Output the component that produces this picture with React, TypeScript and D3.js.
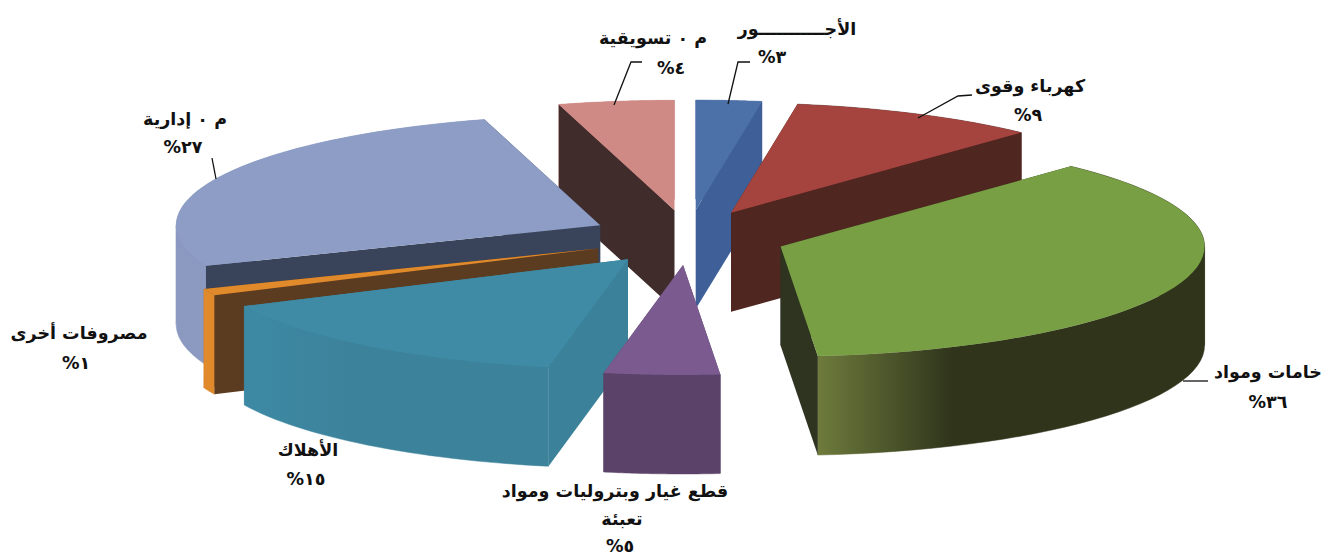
import React from "react";
import * as d3 from "d3";

const categories = ["الأجـــــــــــور", "كهرباء وقوى", "خامات ومواد", "قطع غيار وبتروليات ومواد تعبئة", "الأهلاك", "مصروفات أخرى", "م ٠ إدارية", "م ٠ تسويقية"];
const percentLabels = ["٣", "٩", "٣٦", "٥", "١٥", "١", "٢٧", "٤"];
const shares = [2.5, 9.5, 36.6, 4.4, 15, 1, 26.6, 4.4];
const topColors = ["#4b71a8", "#a5443f", "#789f43", "#7b5a90", "#3f8ba6", "#e08a2c", "#8d9dc5", "#cf8a85"];
const sideColors = ["#3f5f98", "#4f2620", "#2f3420", "#5b4268", "#3b8199", "#5c3c20", "#39435a", "#3f2c2b"];
const wallColors = [["#4b71a8", "#4b71a8"], ["#4f2620", "#4f2620"], ["#6d7b3c", "#2f341b"], ["#5b4268", "#5b4268"], ["#3d89a4", "#3d829b"], ["#e08a2c", "#e08a2c"], ["#8b98bf", "#8d9bc3"], ["#cf8a85", "#cf8a85"]];
const drawOrder = [7, 0, 1, 6, 5, 2, 4, 3];

type LabelLine = { text: string; x: number; y: number };
const labelLines: LabelLine[][] = [
  [{ text: categories[0], x: 797, y: 35 }, { text: percentLabels[0] + "%", x: 772, y: 63 }],
  [{ text: categories[1], x: 1030, y: 92 }, { text: percentLabels[1] + "%", x: 1028, y: 121 }],
  [{ text: categories[2], x: 1268, y: 378 }, { text: percentLabels[2] + "%", x: 1268, y: 408 }],
  [{ text: "قطع غيار وبتروليات ومواد", x: 615, y: 497 }, { text: "تعبئة", x: 622, y: 525 }, { text: percentLabels[3] + "%", x: 620, y: 552 }],
  [{ text: categories[4], x: 308, y: 456 }, { text: percentLabels[4] + "%", x: 306, y: 485 }],
  [{ text: categories[5], x: 79, y: 339 }, { text: percentLabels[5] + "%", x: 76, y: 369 }],
  [{ text: categories[6], x: 185, y: 125 }, { text: percentLabels[6] + "%", x: 183, y: 153 }],
  [{ text: categories[7], x: 653, y: 44 }, { text: percentLabels[7] + "%", x: 671, y: 74 }],
];
const leaderLines = [
  [[728, 104], [738, 62], [750, 62]],
  [[918, 118], [958, 96], [972, 95]],
  [[1183, 381], [1208, 381]],
  [],
  [],
  [],
  [[216, 179], [212, 158]],
  [[614, 105], [631, 62], [642, 62]],
];

const cx = 688, cy = 237.5, rx = 424, ry = 110, depth = 99, explodeX = 0.231, explodeY = 0.25;
const sx = d3.scaleLinear().domain([-1, 1]).range([cx - rx, cx + rx]);
const sy = d3.scaleLinear().domain([-1, 1]).range([cy - ry, cy + ry]);
const arcs = d3.pie<number>().sort(null).value((d) => d)(shares);
const line = d3.line();

function sliceGeometry(a0: number, a1: number) {
  const mid = (a0 + a1) / 2;
  const ox = explodeX * Math.sin(mid), oy = -explodeY * Math.cos(mid);
  const apex: [number, number] = [sx(ox), sy(oy)];
  const at = (a: number): [number, number] => [sx(ox + Math.sin(a)), sy(oy - Math.cos(a))];
  const steps = d3.range(0, 49).map((k) => a0 + ((a1 - a0) * k) / 48);
  const rim = steps.map(at);
  // the wall polygon folds over at the left and right extremes of the ellipse, so it is cut there
  const cuts = [Math.PI / 2, (3 * Math.PI) / 2].filter((c) => c > a0 && c < a1);
  const bounds = [a0, ...cuts, a1];
  const wallParts = d3.pairs(bounds).map(([p, q]) => d3.range(0, 33).map((k) => at(p + ((q - p) * k) / 32)));
  return { apex, rim, wallParts };
}
const drop = (p: [number, number]): [number, number] => [p[0], p[1] + depth];

export default function App() {
  return (
    <svg width={1322} height={558} style={{ position: "absolute", left: 0, top: 0, background: "#fff" }}>
      <defs>
        {arcs.map((a, i) => {
          const g = sliceGeometry(a.startAngle, a.endAngle);
          const xs = g.rim.map((p) => p[0]);
          return (
            <linearGradient key={i} id={`wall${i}`} gradientUnits="userSpaceOnUse" x1={d3.min(xs)} x2={d3.max(xs)} y1={0} y2={0}>
              <stop offset="0" stopColor={wallColors[i][0]} />
              <stop offset="0.35" stopColor={wallColors[i][1]} />
              <stop offset="1" stopColor={wallColors[i][1]} />
            </linearGradient>
          );
        })}
      </defs>
      {drawOrder.map((i) => {
        const a = arcs[i];
        const g = sliceGeometry(a.startAngle, a.endAngle);
        const first = g.rim[0], last = g.rim[g.rim.length - 1];
        const quad = (p: [number, number]) => line([g.apex, p, drop(p), drop(g.apex)]) + "Z";
        const startFront = Math.sin(a.startAngle) < 0;
        const endFront = Math.sin(a.endAngle) > 0;
        const top = line([g.apex, ...g.rim]) + "Z";
        return (
          <g key={i}>
            {!startFront && <path d={quad(first)} fill={sideColors[i]} />}
            {!endFront && <path d={quad(last)} fill={sideColors[i]} />}
            {g.wallParts.map((part, k) => (
              <path key={k} d={line([...part, ...part.map(drop).reverse()]) + "Z"} fill={`url(#wall${i})`} stroke={`url(#wall${i})`} strokeWidth={0.5} />
            ))}
            {startFront && <path d={quad(first)} fill={sideColors[i]} />}
            {endFront && <path d={quad(last)} fill={sideColors[i]} />}
            <path d={top} fill={topColors[i]} />
          </g>
        );
      })}
      {leaderLines.map((pts, i) =>
        pts.length ? <path key={i} d={line(pts as [number, number][]) || ""} fill="none" stroke="#111" strokeWidth={1.3} /> : null
      )}
      {labelLines.flat().map((t, i) => (
        <text key={i} x={t.x} y={t.y} direction="rtl" textAnchor="middle" fontFamily="'DejaVu Sans', sans-serif" fontWeight="bold" fontSize={17.5} fill="#111">
          {t.text}
        </text>
      ))}
    </svg>
  );
}
